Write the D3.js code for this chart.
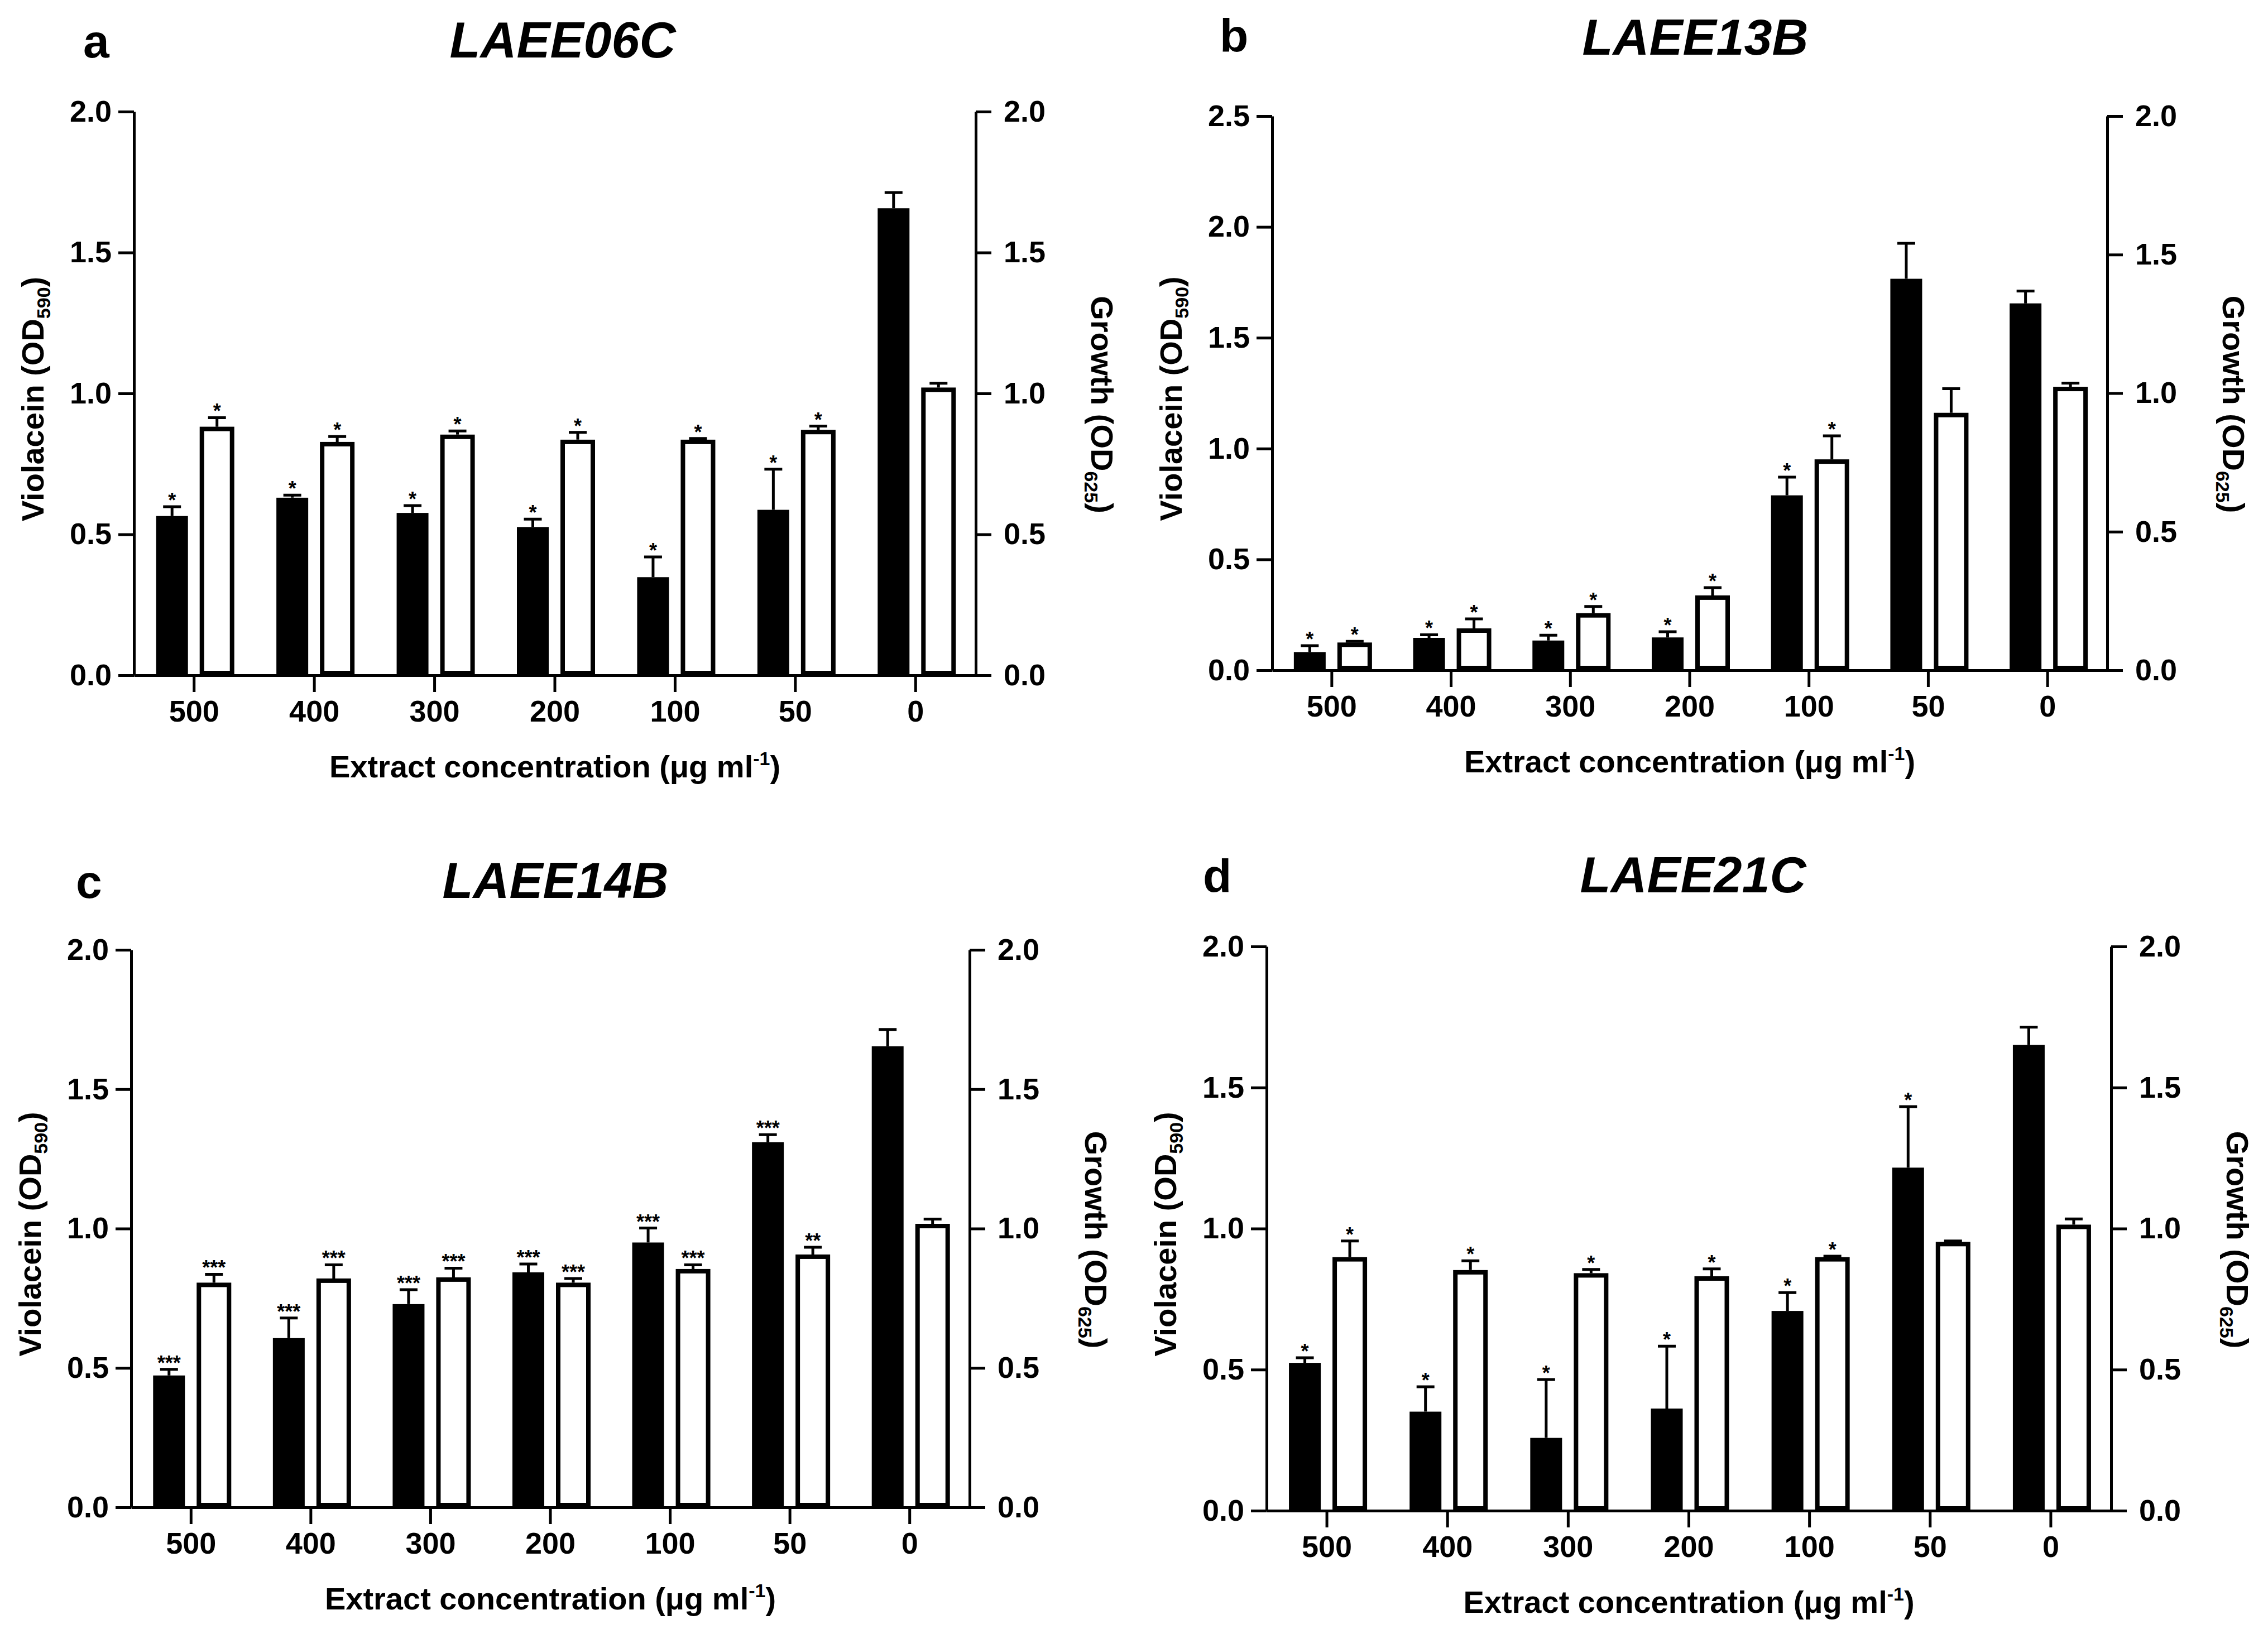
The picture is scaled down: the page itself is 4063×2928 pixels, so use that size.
<!DOCTYPE html>
<html>
<head>
<meta charset="utf-8">
<script src="https://cdn.jsdelivr.net/npm/d3@7"></script>
<style>
  body { margin: 0; background: #fff; }
  text { font-family: "Liberation Sans", Arial, sans-serif; font-weight: bold; fill: #000; }
</style>
</head>
<body>
<svg id="fig"></svg>
<script>
// concentrations on the x axis (ug/ml)
var categories = ["500", "400", "300", "200", "100", "50", "0"];

var ticks2 = [0, 0.5, 1.0, 1.5, 2.0];
var ticks25 = [0, 0.5, 1.0, 1.5, 2.0, 2.5];

// a - LAEE06C
var violA    = [0.565, 0.630, 0.576, 0.526, 0.348, 0.587, 1.657];
var violErrA = [0.033, 0.009, 0.026, 0.028, 0.072, 0.144, 0.056];
var growA    = [0.874, 0.820, 0.846, 0.828, 0.828, 0.863, 1.013];
var growErrA = [0.032, 0.019, 0.013, 0.026, 0.004, 0.013, 0.015];
var violSigA = ["*", "*", "*", "*", "*", "*", ""];
var growSigA = ["*", "*", "*", "*", "*", "*", ""];

// b - LAEE13B
var violB    = [0.082, 0.146, 0.134, 0.148, 0.789, 1.766, 1.655];
var violErrB = [0.029, 0.014, 0.024, 0.026, 0.082, 0.160, 0.056];
var growB    = [0.092, 0.143, 0.198, 0.262, 0.753, 0.921, 1.015];
var growErrB = [0.004, 0.034, 0.024, 0.028, 0.085, 0.087, 0.013];
var violSigB = ["*", "*", "*", "*", "*", "", ""];
var growSigB = ["*", "*", "*", "*", "*", "", ""];

// c - LAEE14B
var violC    = [0.473, 0.607, 0.729, 0.843, 0.950, 1.310, 1.654];
var violErrC = [0.022, 0.072, 0.052, 0.030, 0.052, 0.027, 0.060];
var growC    = [0.798, 0.813, 0.817, 0.798, 0.847, 0.899, 1.009];
var growErrC = [0.030, 0.049, 0.033, 0.015, 0.015, 0.026, 0.017];
var violSigC = ["***", "***", "***", "***", "***", "***", ""];
var growSigC = ["***", "***", "***", "***", "***", "**", ""];

// d - LAEE21C
var violD    = [0.524, 0.351, 0.258, 0.362, 0.708, 1.216, 1.651];
var violErrD = [0.018, 0.088, 0.207, 0.221, 0.065, 0.216, 0.063];
var growD    = [0.891, 0.845, 0.834, 0.823, 0.891, 0.945, 1.006];
var growErrD = [0.057, 0.033, 0.013, 0.026, 0.003, 0.003, 0.020];
var violSigD = ["*", "*", "*", "*", "*", "*", ""];
var growSigD = ["*", "*", "*", "*", "*", "", ""];

var svg = d3.select("#fig")
    .attr("width", 4063)
    .attr("height", 2928)
    .attr("viewBox", "0 0 4063 2928");

function errPath(xc, y0, y1) {
    return "M" + xc + "," + y0 + "V" + y1 + "M" + (xc - 16) + "," + y1 + "H" + (xc + 16);
}

function styleAxis(ax, size) {
    ax.selectAll("path, line").attr("stroke", "#000").attr("stroke-width", 5);
    ax.selectAll("text").attr("font-size", size).attr("fill", "#000");
}

function drawPanel(p) {
    var g = svg.append("g");

    var x = d3.scaleBand().domain(categories).range([p.left, p.right]);
    var yL = d3.scaleLinear().domain([0, p.maxL]).range([p.bottom, p.top]);
    var yR = d3.scaleLinear().domain([0, p.maxR]).range([p.bottom, p.top]);
    var cx = function (c) { return x(c) + x.bandwidth() / 2; };

    var rows = categories.map(function (c, i) {
        return { c: c, v: p.viol[i], ve: p.violErr[i], vs: p.violSig[i],
                 g: p.grow[i], ge: p.growErr[i], gs: p.growSig[i] };
    });

    // violacein - black bars (left axis)
    g.selectAll("rect.vb").data(rows).enter().append("rect")
        .attr("class", "vb")
        .attr("x", function (d) { return cx(d.c) - 68; })
        .attr("width", 57)
        .attr("y", function (d) { return yL(d.v); })
        .attr("height", function (d) { return p.bottom - yL(d.v); })
        .attr("fill", "#000");

    // growth - open bars (right axis)
    g.selectAll("rect.gb").data(rows).enter().append("rect")
        .attr("class", "gb")
        .attr("x", function (d) { return cx(d.c) + 14; })
        .attr("width", 54)
        .attr("y", function (d) { return yR(d.g); })
        .attr("height", function (d) { return p.bottom - yR(d.g) - 4; })
        .attr("fill", "#fff")
        .attr("stroke", "#000")
        .attr("stroke-width", 8);

    // error bars
    g.selectAll("path.ve").data(rows).enter().append("path")
        .attr("d", function (d) { return errPath(cx(d.c) - 39.5, yL(d.v), yL(d.v + d.ve)); })
        .attr("stroke", "#000").attr("stroke-width", 5).attr("fill", "none");
    g.selectAll("path.ge").data(rows).enter().append("path")
        .attr("d", function (d) { return errPath(cx(d.c) + 41, yR(d.g) - 4, yR(d.g + d.ge) - 4); })
        .attr("stroke", "#000").attr("stroke-width", 5).attr("fill", "none");

    // significance marks
    g.selectAll("text.vs").data(rows).enter().append("text")
        .attr("x", function (d) { return cx(d.c) - 39.5; })
        .attr("y", function (d) { return yL(d.v + d.ve) + 1; })
        .attr("text-anchor", "middle")
        .attr("font-size", 36)
        .attr("font-weight", "normal")
        .text(function (d) { return d.vs; });
    g.selectAll("text.gs").data(rows).enter().append("text")
        .attr("x", function (d) { return cx(d.c) + 41; })
        .attr("y", function (d) { return yR(d.g + d.ge) - 3; })
        .attr("text-anchor", "middle")
        .attr("font-size", 36)
        .attr("font-weight", "normal")
        .text(function (d) { return d.gs; });

    // axes
    var fmt = d3.format(".1f");
    var axL = g.append("g").attr("transform", "translate(" + p.left + ",0)")
        .call(d3.axisLeft(yL).tickValues(p.ticksL).tickFormat(fmt)
              .tickSize(28).tickSizeOuter(0).tickPadding(12));
    styleAxis(axL, 54);

    var axR = g.append("g").attr("transform", "translate(" + p.right + ",0)")
        .call(d3.axisRight(yR).tickValues(p.ticksR).tickFormat(fmt)
              .tickSize(28).tickSizeOuter(0).tickPadding(22));
    styleAxis(axR, 54);

    var axB = g.append("g").attr("transform", "translate(0," + p.bottom + ")")
        .call(d3.axisBottom(x).tickSize(30).tickSizeOuter(0).tickPadding(15));
    styleAxis(axB, 54);

    var mid = (p.top + p.bottom) / 2;
    var center = (p.left + p.right) / 2;

    // y titles
    var tl = g.append("text")
        .attr("transform", "translate(" + (p.left - 162) + "," + (mid + 10) + ") rotate(-90)")
        .attr("text-anchor", "middle").attr("font-size", 56);
    tl.append("tspan").text("Violacein (OD");
    tl.append("tspan").attr("font-size", 34).attr("dy", 12).text("590");
    tl.append("tspan").attr("dy", -12).text(")");

    var tr = g.append("text")
        .attr("transform", "translate(" + (p.right + 207) + "," + (mid + 20) + ") rotate(90)")
        .attr("text-anchor", "middle").attr("font-size", 56);
    tr.append("tspan").text("Growth (OD");
    tr.append("tspan").attr("font-size", 34).attr("dy", 12).text("625");
    tr.append("tspan").attr("dy", -12).text(")");

    // x title
    var xt = g.append("text")
        .attr("x", center).attr("y", p.bottom + 183)
        .attr("text-anchor", "middle").attr("font-size", 56);
    xt.append("tspan").text("Extract concentration (\u03bcg ml");
    xt.append("tspan").attr("font-size", 34).attr("dy", -22).text("-1");
    xt.append("tspan").attr("dy", 22).text(")");

    // panel letter and strain title
    g.append("text").attr("x", p.letterX).attr("y", p.letterY)
        .attr("font-size", 84).text(p.letter);
    g.append("text").attr("x", p.titleX).attr("y", p.titleY)
        .attr("text-anchor", "middle").attr("font-size", 90)
        .attr("font-style", "italic").text(p.title);
}

drawPanel({
    letter: "a", title: "LAEE06C", letterX: 149, letterY: 103, titleX: 1008, titleY: 103,
    left: 240, right: 1748, top: 200, bottom: 1210, maxL: 2, maxR: 2,
    ticksL: ticks2, ticksR: ticks2,
    viol: violA, violErr: violErrA, violSig: violSigA,
    grow: growA, growErr: growErrA, growSig: growSigA
});

drawPanel({
    letter: "b", title: "LAEE13B", letterX: 2185, letterY: 93, titleX: 3037, titleY: 98,
    left: 2279, right: 3775, top: 208, bottom: 1201, maxL: 2.5, maxR: 2,
    ticksL: ticks25, ticksR: ticks2,
    viol: violB, violErr: violErrB, violSig: violSigB,
    grow: growB, growErr: growErrB, growSig: growSigB
});

drawPanel({
    letter: "c", title: "LAEE14B", letterX: 136, letterY: 1609, titleX: 995, titleY: 1609,
    left: 235, right: 1737, top: 1702, bottom: 2701, maxL: 2, maxR: 2,
    ticksL: ticks2, ticksR: ticks2,
    viol: violC, violErr: violErrC, violSig: violSigC,
    grow: growC, growErr: growErrC, growSig: growSigC
});

drawPanel({
    letter: "d", title: "LAEE21C", letterX: 2155, letterY: 1599, titleX: 3033, titleY: 1599,
    left: 2269, right: 3782, top: 1696, bottom: 2707, maxL: 2, maxR: 2,
    ticksL: ticks2, ticksR: ticks2,
    viol: violD, violErr: violErrD, violSig: violSigD,
    grow: growD, growErr: growErrD, growSig: growSigD
});
</script>
</body>
</html>
